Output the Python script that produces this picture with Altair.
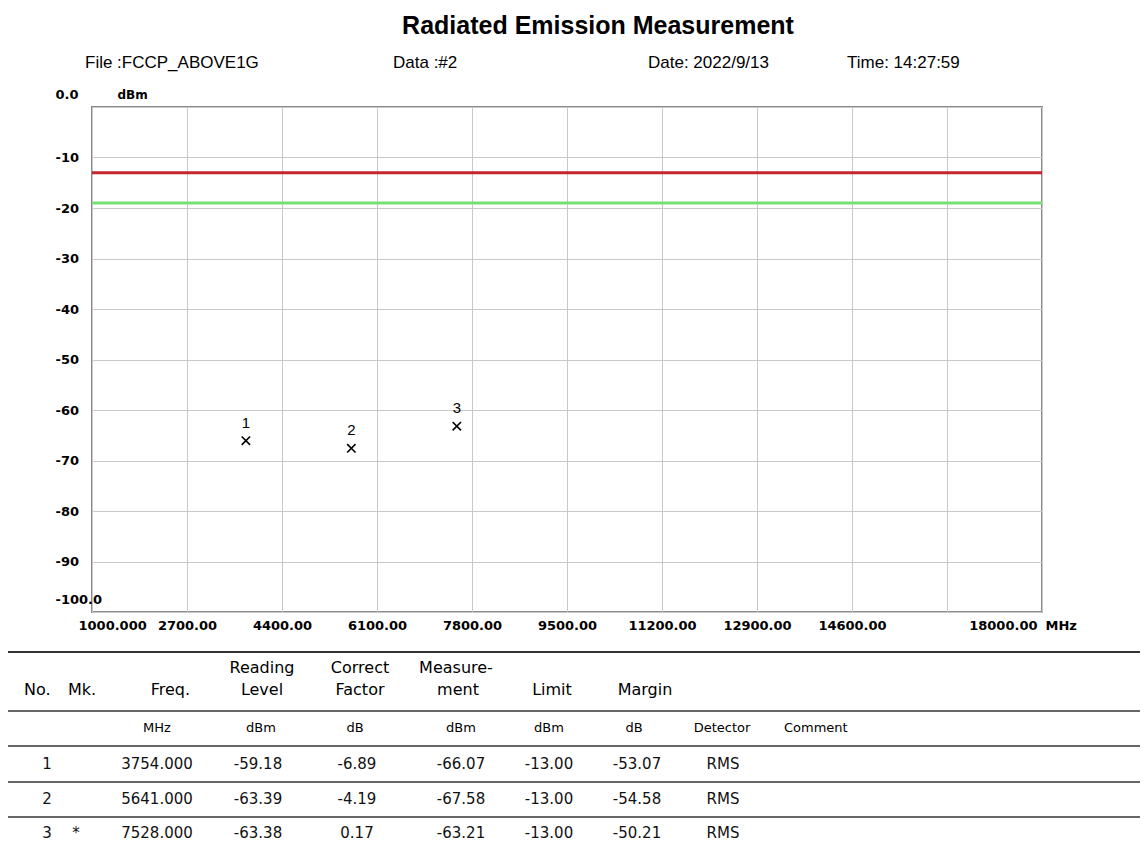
import altair as alt
import pandas as pd

# ---------------- data ----------------
marker_no = [1, 2, 3]
marker_mk = ["", "", "*"]
freq_mhz = [3754.000, 5641.000, 7528.000]
reading_dbm = [-59.18, -63.39, -63.38]
correct_db = [-6.89, -4.19, 0.17]
measure_dbm = [-66.07, -67.58, -63.21]
limit_dbm = [-13.00, -13.00, -13.00]
margin_db = [-53.07, -54.58, -50.21]
detector = ["RMS", "RMS", "RMS"]

limit_levels = [-13.0, -19.0]
limit_names = ["Limit", "Limit - 6 dB"]

x_tick_values = [1000, 2700, 4400, 6100, 7800, 9500, 11200, 12900, 14600, 16300, 18000]
x_tick_labels = ["1000.000", "2700.00", "4400.00", "6100.00", "7800.00", "9500.00",
                 "11200.00", "12900.00", "14600.00", "", "18000.00"]
y_tick_values = [0, -10, -20, -30, -40, -50, -60, -70, -80, -90, -100]
y_tick_labels = ["0.0", "-10", "-20", "-30", "-40", "-50", "-60", "-70", "-80", "-90", "-100.0"]

title_text = "Radiated Emission Measurement"
info_texts = ["File :FCCP_ABOVE1G", "Data :#2", "Date: 2022/9/13", "Time: 14:27:59"]

# ---------------- layout (page pixels) ----------------
W, H = 950, 505
OX, OY = 92, 107          # page position of the plot area


def vx(px):
    return px - OX


def vy(py):
    return py - OY


def label_expr(values, labels):
    e = ""
    for v, l in zip(values, labels):
        e += f"datum.value == {v} ? '{l}' : "
    return e + "''"


x_scale = alt.Scale(domain=[1000, 18000], nice=False, zero=False)
y_scale = alt.Scale(domain=[-100, 0], nice=False, zero=False)

ax_font = dict(labelFont="DejaVu Sans", labelFontWeight="bold", labelColor="#000000")

# main x axis: grid + all labels except the last one
x_axis = alt.Axis(
    values=x_tick_values,
    labelExpr=label_expr(x_tick_values[:-1], x_tick_labels[:-1]),
    grid=True, gridColor="#c8c8c8", gridWidth=1, domain=False, ticks=False, tickSize=0,
    labelPadding=13, labelBaseline="middle", labelFontSize=13,
    labelFlush=True, labelFlushOffset=14, labelOverlap=False, title=None, **ax_font,
)

# second bottom axis carrying only the last label and the unit
x_axis_last = alt.Axis(
    orient="bottom", values=x_tick_values[-1:],
    labelExpr=label_expr(x_tick_values[-1:], x_tick_labels[-1:]),
    grid=False, domain=False, ticks=False, tickSize=0,
    labelPadding=13, labelBaseline="middle", labelFontSize=13, labelAlign="right",
    labelOffset=-5, labelFlush=False, labelOverlap=False,
    title="MHz", titleX=953, titleY=13, titleAngle=0, titleAlign="left",
    titleBaseline="middle", titleFont="DejaVu Sans", titleFontSize=13,
    titleFontWeight="bold", titleColor="#000000", **ax_font,
)

y_axis = alt.Axis(
    values=y_tick_values, labelExpr=label_expr(y_tick_values, y_tick_labels),
    grid=True, gridColor="#c8c8c8", gridWidth=1, domain=False, ticks=False, tickSize=0,
    labelAlign="left", labelPadding=37,
    labelBaseline={"condition": {"test": "datum.value == 0 || datum.value == -100",
                                 "value": "line-bottom"}, "value": "middle"},
    labelLineHeight=26, labelFontSize=13, labelOverlap=False,
    title="dBm", titleX=25, titleY=-13, titleAngle=0, titleAlign="left",
    titleBaseline="middle", titleFont="DejaVu Sans", titleFontSize=12,
    titleFontWeight="bold", titleColor="#000000", **ax_font,
)

# ---------------- plot layers ----------------
rules = alt.Chart(pd.DataFrame({"lvl": limit_levels, "name": limit_names})).mark_rule(
    strokeWidth=3
).encode(
    y=alt.Y("lvl:Q", scale=y_scale, axis=y_axis),
    color=alt.Color("name:N", scale=alt.Scale(domain=limit_names,
                                              range=["#c4262e", "#74e074"]), legend=None),
)

df_pts = pd.DataFrame({"no": [str(n) for n in marker_no], "freq": freq_mhz, "meas": measure_dbm})
base = alt.Chart(df_pts).encode(
    x=alt.X("freq:Q", scale=x_scale, axis=x_axis),
    y=alt.Y("meas:Q", scale=y_scale, axis=y_axis),
)
points = base.mark_point(shape="M-1,-1L1,1M-1,1L1,-1", size=70, filled=False,
                         stroke="#000000", strokeWidth=1.6, opacity=1)
point_labels = base.mark_text(dy=-18, font="Liberation Sans", fontSize=15,
                              color="#000000").encode(text="no:N")

plot = alt.layer(rules, points, point_labels)

last_label_layer = alt.Chart(pd.DataFrame({"f": x_tick_values[-1:]})).mark_point(
    opacity=0
).encode(x=alt.X("f:Q", scale=x_scale, axis=x_axis_last))

# ---------------- table values ----------------
tab_col_x = [47, 76, 157, 258, 357, 461, 549, 637, 723]   # column centres (page px)
rows = []
for i in range(len(marker_no)):
    cells = [str(marker_no[i]), marker_mk[i], f"{freq_mhz[i]:.3f}", f"{reading_dbm[i]:.2f}",
             f"{correct_db[i]:.2f}", f"{measure_dbm[i]:.2f}", f"{limit_dbm[i]:.2f}",
             f"{margin_db[i]:.2f}", detector[i]]
    for ci, t in enumerate(cells):
        if t:
            rows.append({"ci": ci, "row": i + 1, "txt": t})
df_tab = pd.DataFrame(rows)

table_vals = alt.Chart(df_tab).mark_text(
    font="DejaVu Sans", fontSize=15, color="#111111", align="center", baseline="middle"
).encode(
    x=alt.X("ci:Q", scale=alt.Scale(domain=list(range(len(tab_col_x))),
                                    range=[vx(c) for c in tab_col_x], nice=False, zero=False),
            axis=None),
    y=alt.Y("row:Q", scale=alt.Scale(domain=[1, 3], range=[vy(764), vy(833)],
                                     nice=False, zero=False), axis=None),
    text="txt:N",
)

# ---------------- static texts ----------------
static = []


def txt(s, px, py, size, weight="normal", align="left", font="Liberation Sans",
        baseline="middle"):
    static.append(
        alt.Chart(pd.DataFrame({"t": [s]})).mark_text(
            align=align, baseline=baseline, font=font, fontSize=size,
            fontWeight=weight, color="#000000"
        ).encode(x=alt.value(vx(px)), y=alt.value(vy(py)), text="t:N")
    )


txt(title_text, 598, 34, 25, "bold", "center", baseline="alphabetic")
for s, px in zip(info_texts, [85, 393, 648, 847]):
    txt(s, px, 68, 17, baseline="alphabetic")

hdr_font = "DejaVu Sans"
for s, px in zip(["Reading", "Correct", "Measure-"], [262, 360, 456]):
    txt(s, px, 668, 16, align="center", font=hdr_font)
txt("No.", 24, 690, 16, font=hdr_font)
txt("Mk.", 68, 690, 16, font=hdr_font)
txt("Freq.", 190, 690, 16, align="right", font=hdr_font)
for s, px in zip(["Level", "Factor", "ment", "Limit", "Margin"], [262, 360, 458, 552, 645]):
    txt(s, px, 690, 16, align="center", font=hdr_font)
for s, px in zip(["MHz", "dBm", "dB", "dBm", "dBm", "dB", "Detector"],
                 [157, 261, 355, 461, 549, 634, 722]):
    txt(s, px, 728, 13, align="center", font=hdr_font)
txt("Comment", 784, 728, 13, font=hdr_font)

# ---------------- decorative rules ----------------
lines = []
for py, w in [(3, 2), (652, 2), (711, 1.5), (746, 1.5), (782, 1.5), (817, 1.5)]:
    lines.append(
        alt.Chart(pd.DataFrame({"a": [0]})).mark_rule(color="#333333", strokeWidth=w).encode(
            x=alt.value(vx(8)), x2=alt.value(vx(1140)), y=alt.value(vy(py))
        )
    )

chart = alt.layer(plot, last_label_layer, table_vals, *static, *lines).resolve_scale(
    x="independent", y="independent"
).properties(
    width=W, height=H,
    padding={"left": OX - 8, "top": OY - 8, "right": 1140 - (OX + W), "bottom": 845 - (OY + H)},
    autosize=alt.AutoSizeParams(type="none"),
    background="white",
).configure_view(stroke="#8a8a8a", strokeWidth=2)

chart.save("out.html", embed_options={"renderer": "svg", "actions": False})
